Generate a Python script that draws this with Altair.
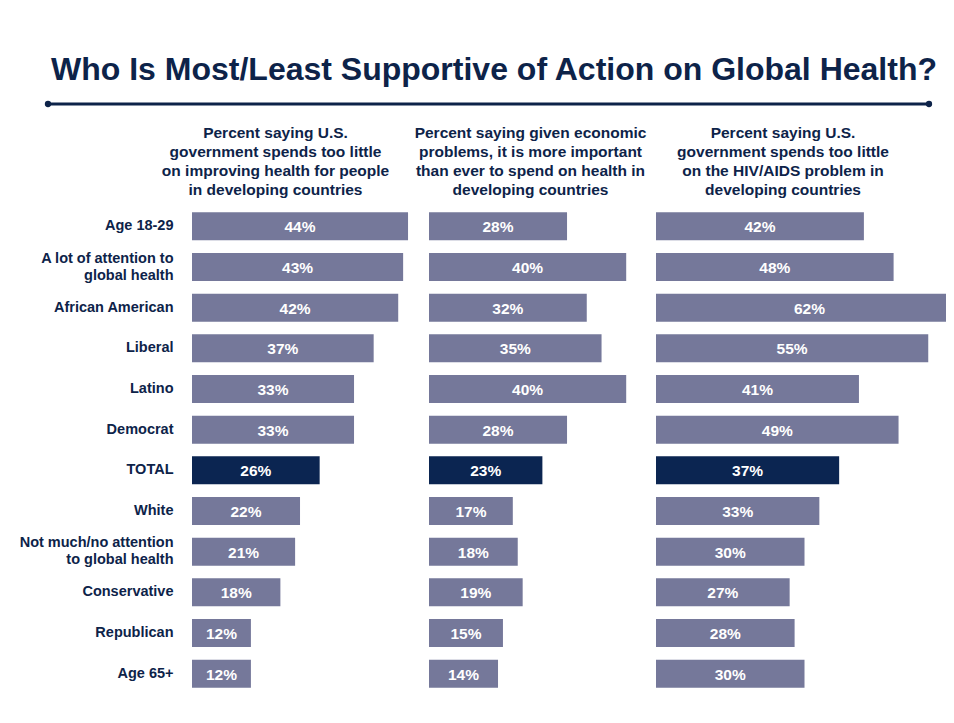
import altair as alt
import pandas as pd

categories = [
    "Age 18-29",
    "A lot of attention to|global health",
    "African American",
    "Liberal",
    "Latino",
    "Democrat",
    "TOTAL",
    "White",
    "Not much/no attention|to global health",
    "Conservative",
    "Republican",
    "Age 65+",
]
spend_too_little_health = [44, 43, 42, 37, 33, 33, 26, 22, 21, 18, 12, 12]
more_important_now = [28, 40, 32, 35, 40, 28, 23, 17, 18, 19, 15, 14]
spend_too_little_hiv = [42, 48, 62, 55, 41, 49, 37, 33, 30, 27, 28, 30]

headers = [
    ["Percent saying U.S.", "government spends too little",
     "on improving health for people", "in developing countries"],
    ["Percent saying given economic", "problems, it is more important",
     "than ever to spend on health in", "developing countries"],
    ["Percent saying U.S.", "government spends too little",
     "on the HIV/AIDS problem in", "developing countries"],
]
TITLE = "Who Is Most/Least Supportive of Action on Global Health?"

NAVY = "#0d2349"
BAR = "#75789a"
TOTAL_BAR = "#0b2551"
FONT = "Liberation Sans"

series = [spend_too_little_health, more_important_now, spend_too_little_hiv]
widths = [237, 227, 290]
px_per_pct = [4.91, 4.93, 4.95]
header_dx = [-35, -12, -18]

H = 488

def panel(i):
    df = pd.DataFrame({"group": categories, "pct": series[i]})
    df["label"] = df["pct"].astype(str) + "%"
    df["half"] = df["pct"] / 2
    df["is_total"] = df["group"] == "TOTAL"
    xscale = alt.Scale(domain=[0, widths[i] / px_per_pct[i]], nice=False, zero=True)
    if i == 0:
        yaxis = alt.Axis(
            title=None, domain=False, ticks=False, labelPadding=19,
            labelFontSize=14.5, labelFontWeight="bold", labelColor=NAVY,
            labelFont=FONT, labelLimit=400, labelLineHeight=17,
            labelExpr="split(datum.label, '|')",
            labelOffset={"condition": {"test": "indexof(datum.label, '|') >= 0",
                                       "value": -8.5}, "value": 0},
            minExtent=184, maxExtent=184,
        )
    else:
        yaxis = None
    y = alt.Y("group:N", sort=categories,
              scale=alt.Scale(paddingInner=0.31, paddingOuter=0.155),
              axis=yaxis)
    base = alt.Chart(df)
    bars = base.mark_bar(clip=True).encode(
        x=alt.X("pct:Q", scale=xscale, axis=None),
        y=y,
        color=alt.condition("datum.is_total", alt.value(TOTAL_BAR), alt.value(BAR)),
    )
    text = base.mark_text(
        color="white", fontSize=15.5, fontWeight="bold", font=FONT,
        align="center", baseline="middle", dy=1,
    ).encode(
        x=alt.X("half:Q", scale=xscale, axis=None),
        y=y,
        text="label:N",
    )
    return alt.layer(bars, text).properties(
        width=widths[i], height=H,
        title=alt.TitleParams(
            text=headers[i], fontSize=15.5, fontWeight="bold", color=NAVY,
            font=FONT, lineHeight=19, anchor="middle", dx=header_dx[i],
            offset=8,
        ),
    )

row = alt.hconcat(panel(0), panel(1), panel(2), spacing=0, bounds="flush")

# banner origin is aligned with panel 1 plot origin (page x = 192)
one = pd.DataFrame({"t": [TITLE]})
title_mark = alt.Chart(one).mark_text(
    fontSize=32, fontWeight="bold", color=NAVY, font=FONT,
    align="center", baseline="alphabetic",
).encode(text="t:N", x=alt.value(302), y=alt.value(72))
rule = alt.Chart(one).mark_rule(color=NAVY, strokeWidth=3).encode(
    x=alt.value(-144), x2=alt.value(737), y=alt.value(96)
)
dot_l = alt.Chart(one).mark_point(filled=True, color=NAVY, size=40, opacity=1).encode(
    x=alt.value(-144), y=alt.value(96)
)
dot_r = alt.Chart(one).mark_point(filled=True, color=NAVY, size=40, opacity=1).encode(
    x=alt.value(737), y=alt.value(96)
)
banner = alt.layer(title_mark, rule, dot_l, dot_r).properties(width=754, height=106)

chart = alt.vconcat(banner, row, spacing=11).properties(
    padding={"left": 0, "top": 0, "right": 0, "bottom": 0},
    background="white",
).configure_view(stroke=None)

chart.save("out.html", embed_options={"renderer": "svg", "actions": False})
